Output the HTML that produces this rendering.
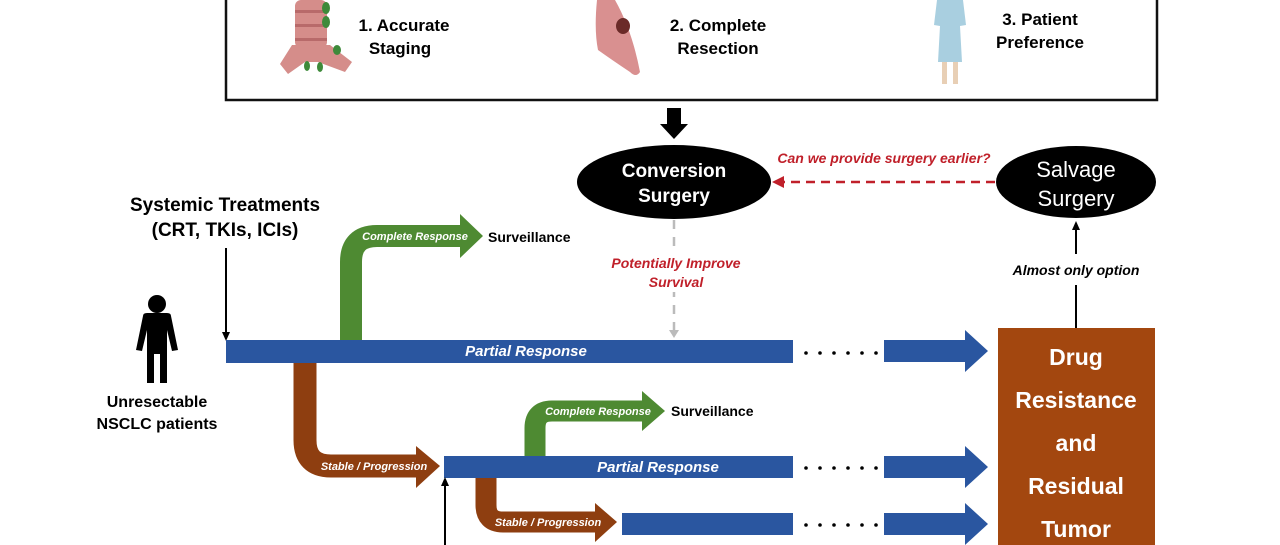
<!DOCTYPE html>
<html><head><meta charset="utf-8"><style>
html,body{margin:0;padding:0;background:#fff;}
svg{display:block;font-family:"Liberation Sans",Arial,sans-serif;}
</style></head><body>
<svg width="1280" height="545" viewBox="0 0 1280 545" xmlns="http://www.w3.org/2000/svg">
<rect x="226" y="-3" width="931" height="103" fill="#fff" stroke="#111" stroke-width="2.5"/>
<g fill="#d58d8a">
<rect x="295" y="0" width="32" height="48" rx="6"/>
<path d="M292 45 L330 45 L352 62 L345 72 L318 62 L305 62 L288 74 L280 64 Z"/>
</g>
<g fill="#b86a6a"><rect x="295" y="10" width="32" height="3"/><rect x="295" y="24" width="32" height="3"/><rect x="295" y="38" width="32" height="3"/></g>
<g fill="#3e8a3a"><ellipse cx="326" cy="8" rx="4" ry="6"/><ellipse cx="326" cy="22" rx="4" ry="6"/><ellipse cx="337" cy="50" rx="4" ry="5"/><ellipse cx="307" cy="66" rx="3" ry="5"/><ellipse cx="320" cy="67" rx="3" ry="5"/></g>
<text x="404" y="31" font-size="17" font-weight="bold" text-anchor="middle">1. Accurate</text>
<text x="400" y="54" font-size="17" font-weight="bold" text-anchor="middle">Staging</text>
<path d="M597 0 L615 0 Q632 30 640 72 Q636 78 630 72 Q612 60 598 50 Q594 30 597 0 Z" fill="#d99090"/>
<ellipse cx="623" cy="26" rx="7" ry="8" fill="#6b2a28"/>
<text x="718" y="31" font-size="17" font-weight="bold" text-anchor="middle">2. Complete</text>
<text x="718" y="54" font-size="17" font-weight="bold" text-anchor="middle">Resection</text>
<path d="M937 0 L963 0 L966 25 L960 26 L962 62 L938 62 L940 26 L934 25 Z" fill="#a9cfe0"/>
<rect x="942" y="62" width="5" height="22" fill="#e8cfb5"/><rect x="953" y="62" width="5" height="22" fill="#e8cfb5"/>
<text x="1040" y="25" font-size="17" font-weight="bold" text-anchor="middle">3. Patient</text>
<text x="1040" y="48" font-size="17" font-weight="bold" text-anchor="middle">Preference</text>
<polygon points="667,108 681,108 681,124 688,124 674,139 660,124 667,124" fill="#000"/>
<ellipse cx="674" cy="182" rx="97" ry="37" fill="#000"/>
<text x="674" y="177" font-size="19" font-weight="bold" fill="#fff" text-anchor="middle">Conversion</text>
<text x="674" y="202" font-size="19" font-weight="bold" fill="#fff" text-anchor="middle">Surgery</text>
<ellipse cx="1076" cy="182" rx="80" ry="36" fill="#000"/>
<text x="1076" y="177" font-size="22" fill="#fff" text-anchor="middle">Salvage</text>
<text x="1076" y="206" font-size="22" fill="#fff" text-anchor="middle">Surgery</text>
<line x1="995" y1="182" x2="782" y2="182" stroke="#c0202a" stroke-width="2.5" stroke-dasharray="9,6"/>
<polygon points="772,182 784,176 784,188" fill="#c0202a"/>
<text x="884" y="163" font-size="14" font-weight="bold" font-style="italic" fill="#c0202a" text-anchor="middle">Can we provide surgery earlier?</text>
<line x1="674" y1="220" x2="674" y2="332" stroke="#bbb" stroke-width="2.5" stroke-dasharray="9,8"/>
<polygon points="669,330 679,330 674,338" fill="#bbb"/>
<rect x="595" y="252" width="160" height="40" fill="#fff"/>
<text x="676" y="268" font-size="14" font-weight="bold" font-style="italic" fill="#c0202a" text-anchor="middle">Potentially Improve</text>
<text x="676" y="287" font-size="14" font-weight="bold" font-style="italic" fill="#c0202a" text-anchor="middle">Survival</text>
<text x="225" y="211" font-size="19" font-weight="bold" text-anchor="middle">Systemic Treatments</text>
<text x="225" y="236" font-size="19" font-weight="bold" text-anchor="middle">(CRT, TKIs, ICIs)</text>
<line x1="226" y1="248" x2="226" y2="334" stroke="#000" stroke-width="2"/>
<polygon points="222,332 230,332 226,341" fill="#000"/>
<circle cx="157" cy="304" r="9" fill="#000"/>
<path d="M143 316 Q143 313 147 313 L167 313 Q171 313 171 316 L178 350 L172 351 L167 330 L167 383 L160 383 L160 354 L154 354 L154 383 L147 383 L147 330 L142 351 L136 350 Z" fill="#000"/>
<text x="157" y="407" font-size="16" font-weight="bold" text-anchor="middle">Unresectable</text>
<text x="157" y="429" font-size="16" font-weight="bold" text-anchor="middle">NSCLC patients</text>
<path d="M351 342 L351 262 Q351 236 377 236 L462 236" fill="none" stroke="#4e8a32" stroke-width="22"/>
<polygon points="460,214 483,236 460,258" fill="#4e8a32"/>
<text x="415" y="240" font-size="11" font-weight="bold" font-style="italic" fill="#fff" text-anchor="middle">Complete Response</text>
<text x="488" y="242" font-size="14" font-weight="bold">Surveillance</text>
<path d="M305 360 L305 440 Q305 466 331 466 L418 466" fill="none" stroke="#8e3e10" stroke-width="23"/>
<polygon points="416,446 440,466 416,488" fill="#8e3e10"/>
<text x="374" y="470" font-size="11" font-weight="bold" font-style="italic" fill="#fff" text-anchor="middle">Stable / Progression</text>
<rect x="226" y="340" width="567" height="23" fill="#2a56a0"/>
<text x="526" y="356" font-size="15" font-weight="bold" font-style="italic" fill="#fff" text-anchor="middle">Partial Response</text>
<path d="M535 458 L535 428 Q535 411 552 411 L645 411" fill="none" stroke="#4e8a32" stroke-width="21"/>
<polygon points="642,391 665,411 642,431" fill="#4e8a32"/>
<text x="598" y="415" font-size="11" font-weight="bold" font-style="italic" fill="#fff" text-anchor="middle">Complete Response</text>
<text x="671" y="416" font-size="14" font-weight="bold">Surveillance</text>
<path d="M486 476 L486 505 Q486 522 503 522 L598 522" fill="none" stroke="#8e3e10" stroke-width="21"/>
<polygon points="595,503 617,522 595,542" fill="#8e3e10"/>
<text x="548" y="526" font-size="11" font-weight="bold" font-style="italic" fill="#fff" text-anchor="middle">Stable / Progression</text>
<rect x="444" y="456" width="349" height="22" fill="#2a56a0"/>
<text x="658" y="472" font-size="15" font-weight="bold" font-style="italic" fill="#fff" text-anchor="middle">Partial Response</text>
<line x1="445" y1="545" x2="445" y2="484" stroke="#000" stroke-width="2"/>
<polygon points="441,486 449,486 445,477" fill="#000"/>
<rect x="622" y="513" width="171" height="22" fill="#2a56a0"/>
<g fill="#000">
<g id="d1"><circle cx="806" cy="353" r="1.8"/><circle cx="820" cy="353" r="1.8"/><circle cx="834" cy="353" r="1.8"/><circle cx="848" cy="353" r="1.8"/><circle cx="862" cy="353" r="1.8"/><circle cx="876" cy="353" r="1.8"/></g>
<g transform="translate(0,115)"><circle cx="806" cy="353" r="1.8"/><circle cx="820" cy="353" r="1.8"/><circle cx="834" cy="353" r="1.8"/><circle cx="848" cy="353" r="1.8"/><circle cx="862" cy="353" r="1.8"/><circle cx="876" cy="353" r="1.8"/></g>
<g transform="translate(0,172)"><circle cx="806" cy="353" r="1.8"/><circle cx="820" cy="353" r="1.8"/><circle cx="834" cy="353" r="1.8"/><circle cx="848" cy="353" r="1.8"/><circle cx="862" cy="353" r="1.8"/><circle cx="876" cy="353" r="1.8"/></g>
</g>
<g fill="#2a56a0">
<polygon points="884,340 965,340 965,330 988,351 965,372 965,362 884,362"/>
<polygon points="884,456 965,456 965,446 988,467 965,488 965,478 884,478"/>
<polygon points="884,513 965,513 965,503 988,524 965,545 965,535 884,535"/>
</g>
<rect x="998" y="328" width="157" height="220" fill="#a3470f"/>
<g font-size="23" font-weight="bold" fill="#fff" text-anchor="middle">
<text x="1076" y="365">Drug</text><text x="1076" y="408">Resistance</text><text x="1076" y="451">and</text><text x="1076" y="494">Residual</text><text x="1076" y="537">Tumor</text>
</g>
<line x1="1076" y1="328" x2="1076" y2="285" stroke="#000" stroke-width="2"/>
<line x1="1076" y1="254" x2="1076" y2="228" stroke="#000" stroke-width="2"/>
<polygon points="1072,230 1080,230 1076,221" fill="#000"/>
<text x="1076" y="275" font-size="14" font-weight="bold" font-style="italic" text-anchor="middle">Almost only option</text>
</svg>
</body></html>
